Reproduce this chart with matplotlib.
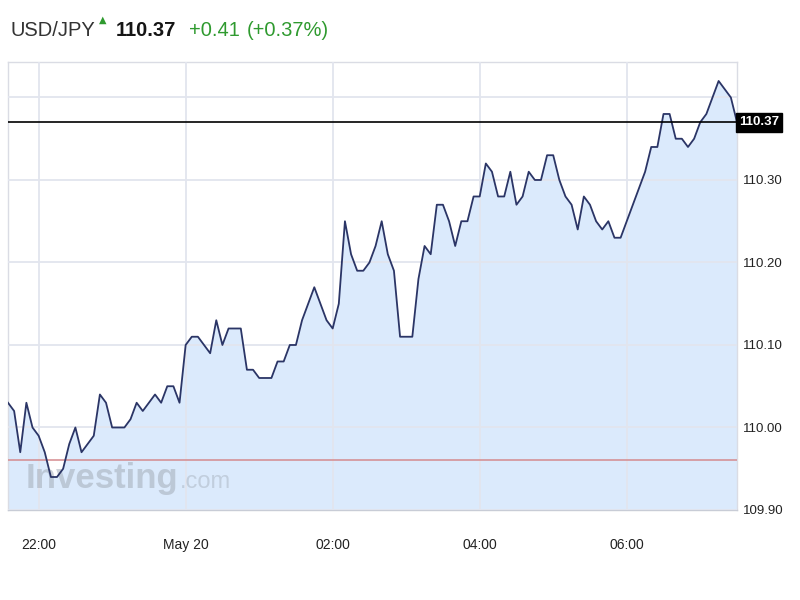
import matplotlib
matplotlib.use('Agg')
import matplotlib.pyplot as plt
import matplotlib.transforms as mtransforms
import pandas as pd

# USD/JPY, 5 minute closes
prices = [
    110.03, 110.02, 109.97, 110.03, 110.00, 109.99, 109.97, 109.94, 109.94, 109.95,
    109.98, 110.00, 109.97, 109.98, 109.99, 110.04, 110.03, 110.00, 110.00, 110.00,
    110.01, 110.03, 110.02, 110.03, 110.04, 110.03, 110.05, 110.05, 110.03, 110.10,
    110.11, 110.11, 110.10, 110.09, 110.13, 110.10, 110.12, 110.12, 110.12, 110.07,
    110.07, 110.06, 110.06, 110.06, 110.08, 110.08, 110.10, 110.10, 110.13, 110.15,
    110.17, 110.15, 110.13, 110.12, 110.15, 110.25, 110.21, 110.19, 110.19, 110.20,
    110.22, 110.25, 110.21, 110.19, 110.11, 110.11, 110.11, 110.18, 110.22, 110.21,
    110.27, 110.27, 110.25, 110.22, 110.25, 110.25, 110.28, 110.28, 110.32, 110.31,
    110.28, 110.28, 110.31, 110.27, 110.28, 110.31, 110.30, 110.30, 110.33, 110.33,
    110.30, 110.28, 110.27, 110.24, 110.28, 110.27, 110.25, 110.24, 110.25, 110.23,
    110.23, 110.25, 110.27, 110.29, 110.31, 110.34, 110.34, 110.38, 110.38, 110.35,
    110.35, 110.34, 110.35, 110.37, 110.38, 110.40, 110.42, 110.41, 110.40, 110.37,
]
times = pd.date_range('2019-05-19 21:35', periods=len(prices), freq='5min')

last_price = 110.37
prev_close = 109.96
change = '+0.41'
change_pct = '(+0.37%)'

xtick_times = pd.to_datetime(['2019-05-19 22:00', '2019-05-20 00:00', '2019-05-20 02:00',
                              '2019-05-20 04:00', '2019-05-20 06:00'])
xtick_labels = ['22:00', 'May 20', '02:00', '04:00', '06:00']
ytick_vals = [109.90, 110.00, 110.10, 110.20, 110.30, 110.40]
ytick_labels = ['109.90', '110.00', '110.10', '110.20', '110.30', '']

FONT = ['Liberation Sans', 'DejaVu Sans']
GREEN = '#2f9a2f'
FILL = '#dbeafc'
LINE = '#2b3566'
GRID = '#e2e5ee'

fig = plt.figure(figsize=(8, 6), dpi=100)
ax = fig.add_axes([8 / 800, 1 - 510 / 600, 729 / 800, 448 / 600])

ax.fill_between(times, prices, 109.0, color=FILL, lw=0, zorder=1)
ax.plot(times, prices, color=LINE, lw=1.3, zorder=4)
ax.axhline(prev_close, color='#d48a8e', lw=1.1, zorder=3)
ax.axhline(last_price, color='black', lw=1.2, zorder=5)

ax.set_xlim(times[0], times[-1])
ax.set_ylim(109.90, 110.443)
ax.yaxis.tick_right()
ax.set_yticks(ytick_vals)
ax.set_yticklabels(ytick_labels, family=FONT, fontsize=9.5, color='#222222')
ax.set_xticks(xtick_times)
ax.set_xticklabels(xtick_labels, family=FONT, fontsize=10, color='#222222')
ax.tick_params(axis='y', length=0, pad=4)
ax.tick_params(axis='x', length=0, pad=20)
ax.set_axisbelow(False)
ax.grid(color=GRID, lw=1.3, zorder=2)
for sp in ax.spines.values():
    sp.set_color('#dadce4')
    sp.set_linewidth(1.0)
ax.spines['bottom'].set_color('#c8ccd6')

# current price tag on the right axis
ax.text(1.0 + 2 / 729, last_price, f'{last_price:.2f}',
        transform=mtransforms.blended_transform_factory(ax.transAxes, ax.transData),
        ha='left', va='center', color='white', fontsize=9.5, fontweight='bold',
        family=FONT, zorder=6,
        bbox=dict(boxstyle='square,pad=0.25', fc='black', ec='black'))

# watermark
ax.text(0.024, 0.05, 'Investing', transform=ax.transAxes, family=FONT, fontsize=25,
        fontweight='bold', color='#a3acb8', alpha=0.55, va='baseline', zorder=3.5)
ax.text(0.236, 0.05, '.com', transform=ax.transAxes, family=FONT, fontsize=17,
        color='#a3acb8', alpha=0.45, va='baseline', zorder=3.5)

# header
fig.text(10 / 800, 1 - 36 / 600, 'USD/JPY', family=FONT, fontsize=14.5, color='#333333', va='baseline')
fig.text(99 / 800, 1 - 23 / 600, '\u25b2', family=['DejaVu Sans'], fontsize=7, color=GREEN, va='baseline')
fig.text(116 / 800, 1 - 36 / 600, f'{last_price:.2f}', family=FONT, fontsize=14.5, fontweight='bold',
         color='#151515', va='baseline')
fig.text(189 / 800, 1 - 36 / 600, change, family=FONT, fontsize=14.5, color=GREEN, va='baseline')
fig.text(247 / 800, 1 - 36 / 600, change_pct, family=FONT, fontsize=14.5, color=GREEN, va='baseline')

fig.savefig('out.png', dpi=100, facecolor='white')
